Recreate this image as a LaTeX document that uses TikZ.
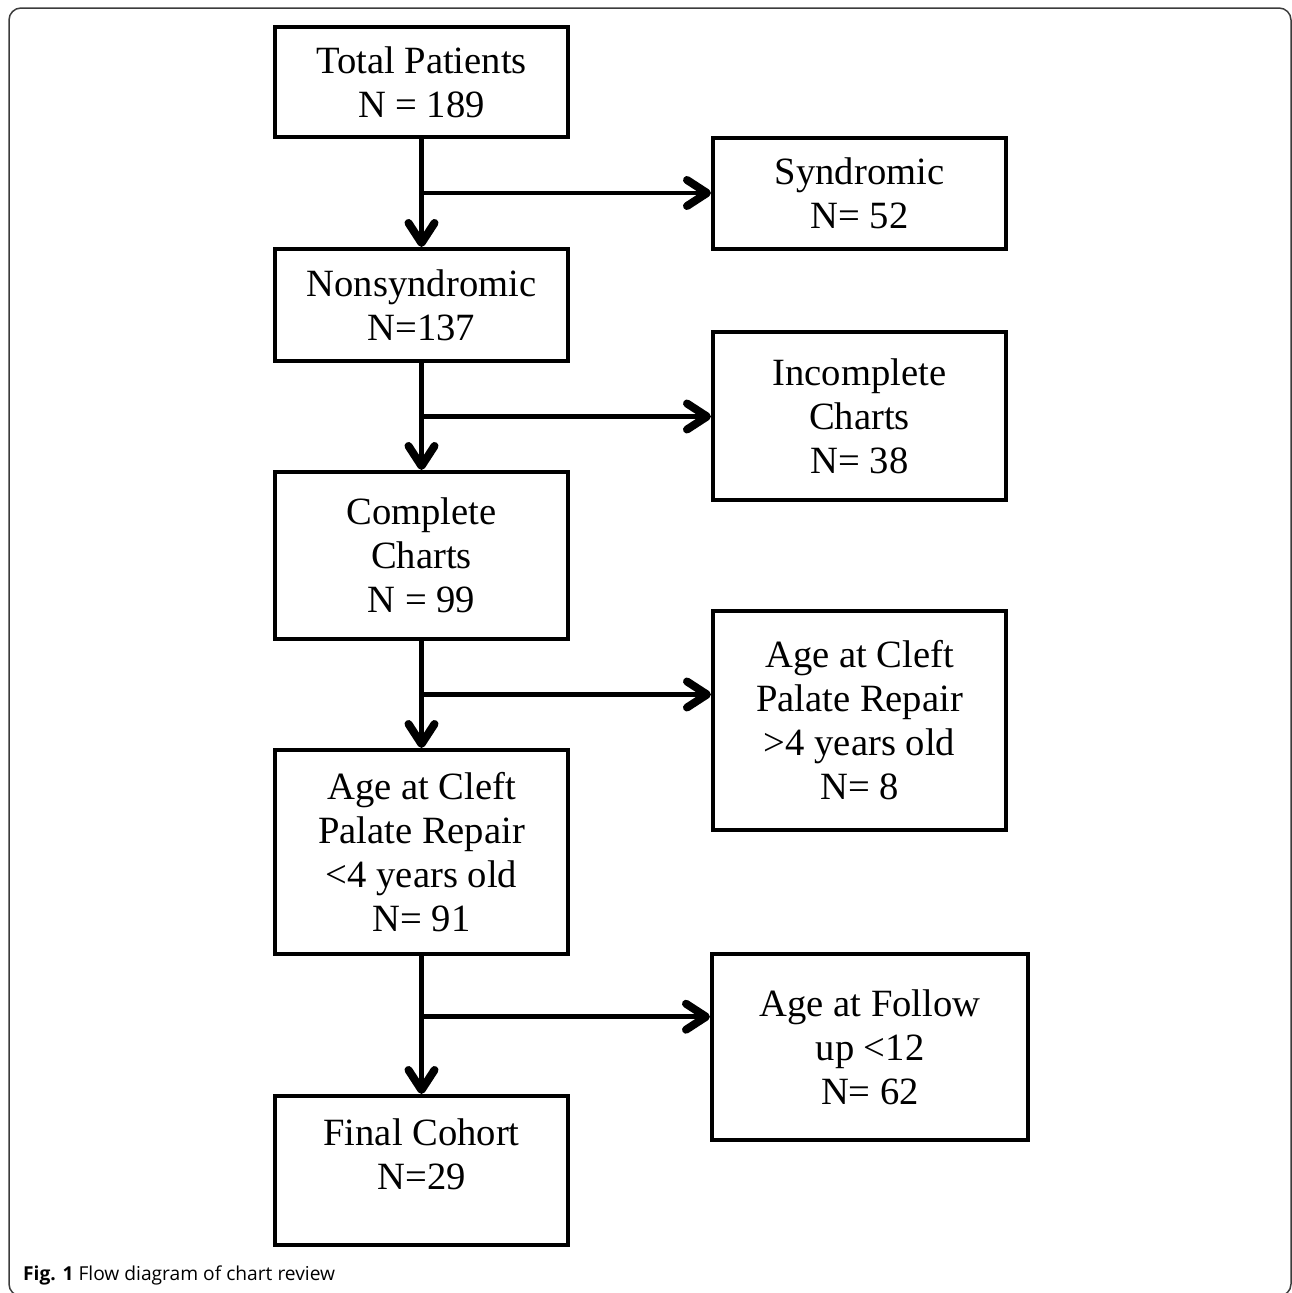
\documentclass[tikz,border=0pt]{standalone}
\usepackage{fontspec}
\setmainfont{Liberation Serif}
\newfontfamily\capfont{Open Sans}
\usepackage{tikz}
\usetikzlibrary{arrows.meta,positioning,calc}
\tikzset{every node/.append style={align=center}}
\definecolor{framecolor}{RGB}{60, 60, 60}

\begin{document}
\begin{tikzpicture}[
    x=1pt, y=-1pt,
    box/.style={draw, line width=4pt, minimum width=293pt, inner sep=0pt, font=\fontsize{38.6}{44}\selectfont},
    flow/.style={-{Straight Barb[length=20pt, width=26pt, round, line width=8pt]}, line width=5pt},
    branch/.style={-{Straight Barb[length=20pt, width=26pt, round, line width=8pt]}, line width=4.5pt}
]
    \useasboundingbox (0,0) rectangle (1292,1293);
    % Frame
    \begin{scope}
        \clip (0,0) rectangle (1292,1293);
        \draw[framecolor, line width=1.5pt, rounded corners=12pt] (9,8) rectangle (1291,1296);
    \end{scope}

    % Main column
    \node[box, minimum height=110pt] (total) at (421.5, 82) {Total Patients\\N = 189};
    \node[box, minimum height=112pt] (nonsynd) at (421.5, 305) {Nonsyndromic\\N=137};
    \node[box, minimum height=167pt] (complete) at (421.5, 555.5) {Complete\\Charts\\N = 99};
    \node[box, minimum height=204pt] (agelow) at (421.5, 852) {Age at Cleft\\Palate Repair\\{<}4 years old\\N= 91};
    \node[box, minimum height=149pt, text depth=32pt] (final) at (421.5, 1170.5) {Final Cohort\\N=29};

    % Excluded
    \node[box, minimum height=111pt] (syndromic) at (859.5, 193.5) {Syndromic\\N= 52};
    \node[box, minimum height=168pt] (incomplete) at (859.5, 416) {Incomplete\\Charts\\N= 38};
    \node[box, minimum height=219pt] (agehigh) at (859.5, 720.5) {Age at Cleft\\Palate Repair\\{>}4 years old\\N= 8};
    \node[box, minimum width=316pt, minimum height=186pt] (followup) at (870, 1047) {Age at Follow\\up {<}12\\N= 62};

    % Forks
    \coordinate (fork1) at ($(total.south)!0.5!(nonsynd.north)$);
    \coordinate (fork2) at ($(nonsynd.south)!0.5!(complete.north)$);
    \coordinate (fork3) at ($(complete.south)!0.5!(agelow.north)$);
    \coordinate (fork4) at ($(agelow.south)!0.44!(final.north)$);

    % Flows
    \draw[flow] (total) -- (nonsynd);
    \draw[flow] (nonsynd) -- (complete);
    \draw[flow] (complete) -- (agelow);
    \draw[flow] (agelow) -- (final);
    \draw[branch] (fork1) -- (fork1 -| syndromic.west);
    \draw[branch] (fork2) -- (fork2 -| incomplete.west);
    \draw[branch] (fork3) -- (fork3 -| agehigh.west);
    \draw[branch] (fork4) -- (fork4 -| followup.west);

    % Caption
    \node[anchor=base west, inner sep=0pt, font=\capfont\fontsize{19.2}{23}\selectfont] (caption) at (23, 1280) {\textbf{Fig. 1} Flow diagram of chart review};
\end{tikzpicture}
\end{document}
